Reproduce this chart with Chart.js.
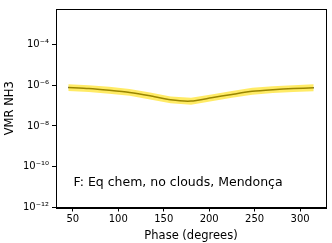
<!DOCTYPE html>
<html>
<head>
<meta charset="utf-8">
<script src="https://cdn.jsdelivr.net/npm/chart.js@4"></script>
<style>
  html, body { margin: 0; padding: 0; background: #fff; }
  #wrap { width: 332px; height: 243px; position: relative; }
</style>
</head>
<body>
<div id="wrap"><canvas id="c"></canvas></div>
<script>
// ── DATA ─────────────────────────────────────────
const phases   = [45, 67.5, 90, 112.5, 135, 157.5, 180, 202.5, 225, 247.5, 270, 292.5, 315];
const vmrMid   = [7.6e-7, 6.8e-7, 5.6e-7, 4.4e-7, 3.0e-7, 1.9e-7, 1.65e-7, 2.4e-7, 3.5e-7, 5.0e-7, 6.0e-7, 6.8e-7, 7.4e-7];
const vmrHigh  = [1.1e-6, 1.0e-6, 8.3e-7, 6.5e-7, 4.4e-7, 2.8e-7, 2.4e-7, 3.5e-7, 5.2e-7, 7.4e-7, 8.9e-7, 1.0e-6, 1.1e-6];
const vmrLow   = [5.2e-7, 4.6e-7, 3.8e-7, 3.0e-7, 2.0e-7, 1.3e-7, 1.1e-7, 1.6e-7, 2.4e-7, 3.4e-7, 4.1e-7, 4.6e-7, 5.0e-7];
const xTicks   = [50, 100, 150, 200, 250, 300];
const yTicks   = [1e-12, 1e-10, 1e-8, 1e-6, 1e-4];
const yLabels  = ['10⁻¹²', '10⁻¹⁰', '10⁻⁸', '10⁻⁶', '10⁻⁴'];
const caption  = 'F: Eq chem, no clouds, Mendonça';

const FONT = 'DejaVu Sans';

// frame + caption
const framePlugin = {
  id: 'frame',
  afterDraw(chart) {
    const { ctx, chartArea: a } = chart;
    ctx.save();
    ctx.strokeStyle = '#000';
    ctx.lineWidth = 1;
    ctx.strokeRect(Math.round(a.left) + 0.5, Math.round(a.top) + 0.5,
                   Math.round(a.right - a.left), Math.round(a.bottom - a.top));
    ctx.fillStyle = '#000';
    ctx.font = `12.5px "${FONT}"`;
    ctx.textBaseline = 'alphabetic';
    ctx.textAlign = 'left';
    ctx.fillText(caption, a.left + 17.5, 186);
    ctx.restore();
  },
};

new Chart(document.getElementById('c').getContext('2d'), {
  type: 'line',
  data: {
    datasets: [
      {
        data: phases.map((p, i) => ({ x: p, y: vmrLow[i] })),
        borderWidth: 0,
        pointRadius: 0,
        backgroundColor: 'rgba(255,221,0,0.6)',
        fill: false,
      },
      {
        data: phases.map((p, i) => ({ x: p, y: vmrHigh[i] })),
        borderWidth: 0,
        pointRadius: 0,
        backgroundColor: 'rgba(255,221,0,0.6)',
        fill: '-1',
      },
      {
        data: phases.map((p, i) => ({ x: p, y: vmrMid[i] })),
        borderColor: '#000',
        borderWidth: 1.5,
        pointRadius: 0,
        tension: 0.2,
        fill: false,
      },
    ],
  },
  options: {
    responsive: true,
    maintainAspectRatio: false,
    animation: false,
    layout: { padding: { left: 0, top: 5, right: 6, bottom: 0 } },
    plugins: { legend: { display: false }, tooltip: { enabled: false } },
    scales: {
      x: {
        type: 'linear',
        min: 31.5,
        max: 328.5,
        afterBuildTicks: s => { s.ticks = xTicks.map(v => ({ value: v })); },
        afterFit: s => { s.height = 35.5; },
        grid: { drawOnChartArea: false, drawTicks: true, tickLength: 4, color: '#000' },
        border: { color: '#000' },
        ticks: { color: '#000', font: { family: FONT, size: 10 }, padding: 2, maxRotation: 0 },
        title: {
          display: true,
          text: 'Phase (degrees)',
          color: '#000',
          font: { family: FONT, size: 11.5 },
          padding: { top: 0, bottom: 0 },
        },
      },
      y: {
        type: 'logarithmic',
        min: 1e-12,
        max: 5.4e-3,
        afterBuildTicks: s => { s.ticks = yTicks.map(v => ({ value: v })); },
        afterFit: s => { s.width = 56; },
        grid: { drawOnChartArea: false, drawTicks: true, tickLength: 4, color: '#000' },
        border: { color: '#000' },
        ticks: {
          color: '#000',
          font: { family: FONT, size: 10 },
          padding: 3,
          callback: v => {
            const i = yTicks.findIndex(t => Math.abs(Math.log10(t) - Math.log10(v)) < 1e-6);
            return i >= 0 ? yLabels[i] : '';
          },
        },
        title: {
          display: true,
          text: 'VMR NH3',
          color: '#000',
          font: { family: FONT, size: 11.5 },
          padding: { top: 3, bottom: 0 },
        },
      },
    },
  },
  plugins: [framePlugin],
});
</script>
</body>
</html>
